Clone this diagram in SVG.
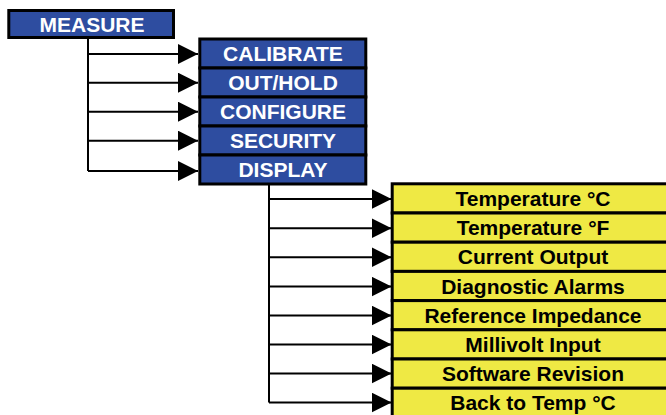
<svg xmlns="http://www.w3.org/2000/svg" width="666" height="415" viewBox="0 0 666 415">
  <style>
    .blue { fill: #2E4DA0; stroke: #000; stroke-width: 3; }
    .yellow { fill: #EFE944; stroke: #000; stroke-width: 3; }
    .bt { font-family: "Liberation Sans", Arial, sans-serif; font-weight: bold; font-size: 21px; fill: #fff; text-anchor: middle; }
    .yt { font-family: "Liberation Sans", Arial, sans-serif; font-weight: bold; font-size: 21px; fill: #000; text-anchor: middle; }
    .conn { stroke: #000; stroke-width: 2; fill: none; }
  </style>
  <defs>
    <marker id="arrow" markerUnits="userSpaceOnUse" markerWidth="21" markerHeight="21" refX="20" refY="10" orient="auto" viewBox="0 0 21 21">
      <path d="M0,0 L20,10 L0,20 Z" fill="#000"/>
    </marker>
  </defs>
  <rect width="666" height="415" fill="#fff"/>

  <g id="connectors">
    <path class="conn" d="M88,38 V171"/>
    <path class="conn" d="M88,54 H198" marker-end="url(#arrow)"/>
    <path class="conn" d="M88,82.7 H198" marker-end="url(#arrow)"/>
    <path class="conn" d="M88,111.7 H198" marker-end="url(#arrow)"/>
    <path class="conn" d="M88,140.7 H198" marker-end="url(#arrow)"/>
    <path class="conn" d="M88,171 H198" marker-end="url(#arrow)"/>
    <path class="conn" d="M269,184 V402.5"/>
    <path class="conn" d="M269,199 H391.5" marker-end="url(#arrow)"/>
    <path class="conn" d="M269,228.3 H391.5" marker-end="url(#arrow)"/>
    <path class="conn" d="M269,257.3 H391.5" marker-end="url(#arrow)"/>
    <path class="conn" d="M269,286.6 H391.5" marker-end="url(#arrow)"/>
    <path class="conn" d="M269,315.5 H391.5" marker-end="url(#arrow)"/>
    <path class="conn" d="M269,344.5 H391.5" marker-end="url(#arrow)"/>
    <path class="conn" d="M269,373.5 H391.5" marker-end="url(#arrow)"/>
    <path class="conn" d="M269,402.5 H391.5" marker-end="url(#arrow)"/>
  </g>

  <g id="measure">
    <rect class="blue" x="8.8" y="10.5" width="164.7" height="27"/>
    <text class="bt" x="92" y="31.7">MEASURE</text>
  </g>

  <g id="calibrate">
    <rect class="blue" x="199.8" y="39" width="166" height="29"/>
    <text class="bt" x="283" y="61">CALIBRATE</text>
  </g>
  <g id="outhold">
    <rect class="blue" x="199.8" y="68" width="166" height="29"/>
    <text class="bt" x="283" y="90">OUT/HOLD</text>
  </g>
  <g id="configure">
    <rect class="blue" x="199.8" y="97" width="166" height="29"/>
    <text class="bt" x="283" y="119">CONFIGURE</text>
  </g>
  <g id="security">
    <rect class="blue" x="199.8" y="126" width="166" height="29"/>
    <text class="bt" x="283" y="148">SECURITY</text>
  </g>
  <g id="display">
    <rect class="blue" x="199.8" y="155" width="166" height="29"/>
    <text class="bt" x="283" y="177">DISPLAY</text>
  </g>

  <g id="temp-c">
    <rect class="yellow" x="392.2" y="183.8" width="290" height="29.2"/>
    <text class="yt" x="533" y="205.9">Temperature °C</text>
  </g>
  <g id="temp-f">
    <rect class="yellow" x="392.2" y="213" width="290" height="29.2"/>
    <text class="yt" x="533" y="235.1">Temperature °F</text>
  </g>
  <g id="current-output">
    <rect class="yellow" x="392.2" y="242.2" width="290" height="29.2"/>
    <text class="yt" x="533" y="264.3">Current Output</text>
  </g>
  <g id="diagnostic-alarms">
    <rect class="yellow" x="392.2" y="271.4" width="290" height="29.2"/>
    <text class="yt" x="533" y="293.5">Diagnostic Alarms</text>
  </g>
  <g id="reference-impedance">
    <rect class="yellow" x="392.2" y="300.6" width="290" height="29.2"/>
    <text class="yt" x="533" y="322.7">Reference Impedance</text>
  </g>
  <g id="millivolt-input">
    <rect class="yellow" x="392.2" y="329.8" width="290" height="29.2"/>
    <text class="yt" x="533" y="351.9">Millivolt Input</text>
  </g>
  <g id="software-revision">
    <rect class="yellow" x="392.2" y="359" width="290" height="29.2"/>
    <text class="yt" x="533" y="381.1">Software Revision</text>
  </g>
  <g id="back-to-temp">
    <rect class="yellow" x="392.2" y="388.2" width="290" height="29.2"/>
    <text class="yt" x="533" y="410.3">Back to Temp °C</text>
  </g>
</svg>
